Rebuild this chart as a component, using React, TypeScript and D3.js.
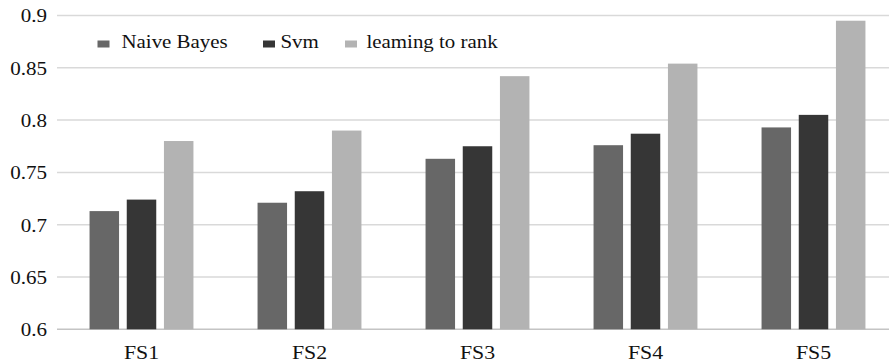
import React from "react";
import * as d3 from "d3";

const categories = ["FS1", "FS2", "FS3", "FS4", "FS5"];
const seriesNames = ["Naive Bayes", "Svm", "leaming to rank"];
const naiveBayes = [0.713, 0.721, 0.763, 0.776, 0.793];
const svm = [0.724, 0.732, 0.775, 0.787, 0.805];
const learningToRank = [0.78, 0.79, 0.842, 0.854, 0.895];
const yTicks = [0.6, 0.65, 0.7, 0.75, 0.8, 0.85, 0.9];
const colors = ["#676767", "#363636", "#b3b3b3"];

const W = 889;
const H = 362;
const FONT = "Liberation Serif";

export default function App() {
  const series = [naiveBayes, svm, learningToRank];
  const x = d3.scaleBand<string>().domain(categories).range([57.5, 897.5]).padding(0);
  const y = d3.scaleLinear().domain([0.6, 0.9]).range([329.3, 15.5]);
  const barW = 29.5;
  const step = 37.2;
  const groupW = step * 2 + barW;
  const fmt = d3.format("~g");

  const legendItems = [
    { sx: 97.5, tx: 121.5 },
    { sx: 263, tx: 280.5 },
    { sx: 345, tx: 366.5 },
  ];

  const textStyle = { fontFamily: FONT, fill: "#111" } as React.CSSProperties;

  return (
    <svg
      width={W}
      height={H}
      style={{ position: "absolute", left: 0, top: 0, background: "#fff" }}
    >
      {yTicks.map((t) => (
        <g key={t}>
          <line
            x1={57}
            x2={W}
            y1={y(t)}
            y2={y(t)}
            stroke={t === 0.6 ? "#c4c4c4" : "#d9d9d9"}
            strokeWidth={1.5}
          />
          <text
            transform={`translate(47,${y(t) + 6.8}) scale(1.08,1)`}
            textAnchor="end"
            style={{ ...textStyle, fontSize: "19.5px" }}
          >
            {fmt(t)}
          </text>
        </g>
      ))}
      {categories.map((c, ci) => {
        const cx = (x(c) as number) + x.bandwidth() / 2;
        return (
          <g key={c}>
            {series.map((s, si) => (
              <rect
                key={si}
                x={cx - groupW / 2 + si * step}
                y={y(s[ci])}
                width={barW}
                height={y(0.6) - y(s[ci])}
                fill={colors[si]}
              />
            ))}
            <text
              transform={`translate(${cx},359.3) scale(1.15,1)`}
              textAnchor="middle"
              style={{ ...textStyle, fontSize: "19px" }}
            >
              {c}
            </text>
          </g>
        );
      })}
      {seriesNames.map((n, i) => (
        <g key={n}>
          <rect x={legendItems[i].sx} y={40.5} width={12} height={7} fill={colors[i]} />
          <text
            transform={`translate(${legendItems[i].tx},47.5) scale(1.1,1)`}
            style={{ ...textStyle, fontSize: "19px" }}
          >
            {n}
          </text>
        </g>
      ))}
    </svg>
  );
}
